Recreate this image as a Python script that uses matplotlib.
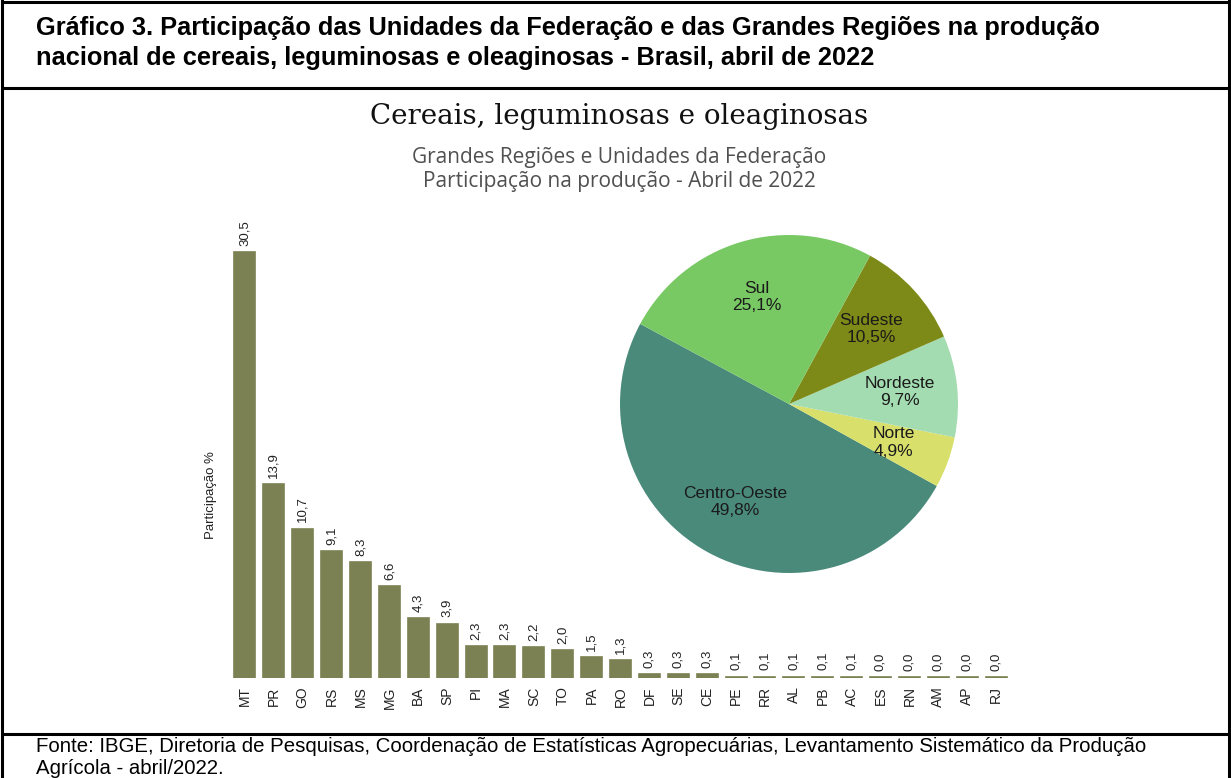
import matplotlib
matplotlib.use("Agg")
import matplotlib.pyplot as plt
from matplotlib.lines import Line2D

# -------------------------------
# data
# -------------------------------
ufs = ["MT", "PR", "GO", "RS", "MS", "MG", "BA", "SP", "PI", "MA", "SC", "TO", "PA", "RO",
       "DF", "SE", "CE", "PE", "RR", "AL", "PB", "AC", "ES", "RN", "AM", "AP", "RJ"]
uf_share = [30.5, 13.9, 10.7, 9.1, 8.3, 6.6, 4.3, 3.9, 2.3, 2.3, 2.2, 2.0, 1.5, 1.3,
            0.3, 0.3, 0.3, 0.1, 0.1, 0.1, 0.1, 0.1, 0.04, 0.04, 0.04, 0.04, 0.04]

regions = ["Centro-Oeste", "Norte", "Nordeste", "Sudeste", "Sul"]
region_share = [49.8, 4.9, 9.7, 10.5, 25.1]
region_colors = ["#4a8a7b", "#d8e06b", "#a4dcb1", "#7e8a17", "#78c964"]

bar_color = "#7b8152"
W, H = 1231, 778

fig = plt.figure(figsize=(W / 100, H / 100), dpi=100)
fig.patch.set_facecolor("white")

# -------------------------------
# frame lines + header / footer
# -------------------------------
def hline(y):
    fig.add_artist(Line2D([3 / W, 1228 / W], [1 - y / H, 1 - y / H], color="black", lw=2.2))

def vline(x):
    fig.add_artist(Line2D([x / W, x / W], [1 - 1 / H, 0], color="black", lw=2.2))

hline(1.5)
hline(87.5)
hline(734)
vline(2.5)
vline(1228.5)

head_font = "Liberation Sans"
fig.text(36 / W, 1 - 28 / H,
         "Gráfico 3. Participação das Unidades da Federação e das Grandes Regiões na produção",
         fontsize=18.3, fontweight="bold", family=head_font, va="center", ha="left")
fig.text(36 / W, 1 - 58 / H,
         "nacional de cereais, leguminosas e oleaginosas - Brasil, abril de 2022",
         fontsize=18.3, fontweight="bold", family=head_font, va="center", ha="left")

fig.text(36 / W, 1 - 747 / H,
         "Fonte: IBGE, Diretoria de Pesquisas, Coordenação de Estatísticas Agropecuárias, "
         "Levantamento Sistemático da Produção",
         fontsize=14.7, family=head_font, va="center", ha="left")
fig.text(36 / W, 1 - 768 / H, "Agrícola - abril/2022.",
         fontsize=14.7, family=head_font, va="center", ha="left")

fig.text(619 / W, 1 - 117 / H, "Cereais, leguminosas e oleaginosas",
         fontsize=20, family="DejaVu Serif", color="#111111", ha="center", va="center")
fig.text(619 / W, 1 - 158 / H, "Grandes Regiões e Unidades da Federação",
         fontsize=15, family="Open Sans", color="#505050", ha="center", va="center")
fig.text(619 / W, 1 - 181 / H, "Participação na produção - Abril de 2022",
         fontsize=15, family="Open Sans", color="#505050", ha="center", va="center")

# -------------------------------
# bar chart
# -------------------------------
ax = fig.add_axes([230.5 / W, 1 - 678 / H, 780 / W, 475 / H])
x = range(len(ufs))
ax.bar(x, uf_share, width=0.73, color=bar_color, edgecolor=bar_color, linewidth=1.2)
ax.set_xlim(-0.5, len(ufs) - 0.5)
ax.set_ylim(0, 34)
for i, v in enumerate(uf_share):
    ax.text(i, v + 0.45, f"{v:.1f}".replace(".", ","), rotation=90, ha="center", va="bottom",
            fontsize=9.5, family="Liberation Sans", color="#222222")
ax.set_xticks(list(x))
ax.set_xticklabels(ufs, rotation=90, fontsize=10, family="Liberation Sans", color="#222222")
ax.tick_params(axis="x", length=0, pad=6)
ax.set_yticks([])
for s in ax.spines.values():
    s.set_visible(False)
ax.patch.set_alpha(0)
fig.text(211 / W, 1 - 495 / H, "Participação %", rotation=90, ha="center", va="center",
         fontsize=9.5, family="Liberation Sans", color="#222222")

# -------------------------------
# pie chart
# -------------------------------
r = 169
cx, cy = 789, 404
pax = fig.add_axes([(cx - r) / W, 1 - (cy + r) / H, 2 * r / W, 2 * r / H])
labels = [f"{n}\n{v:.1f}%".replace(".", ",") for n, v in zip(regions, region_share)]
wedges, texts = pax.pie(region_share, colors=region_colors, startangle=151.7,
                        counterclock=True, labels=labels, labeldistance=0.66,
                        textprops=dict(fontsize=12.5, family="Liberation Sans",
                                       color="#1a1a1a", ha="center", va="center",
                                       linespacing=1.2))
pax.set_xlim(-1, 1)
pax.set_ylim(-1, 1)
pax.set_aspect("equal")

fig.savefig("out.png", dpi=100)
